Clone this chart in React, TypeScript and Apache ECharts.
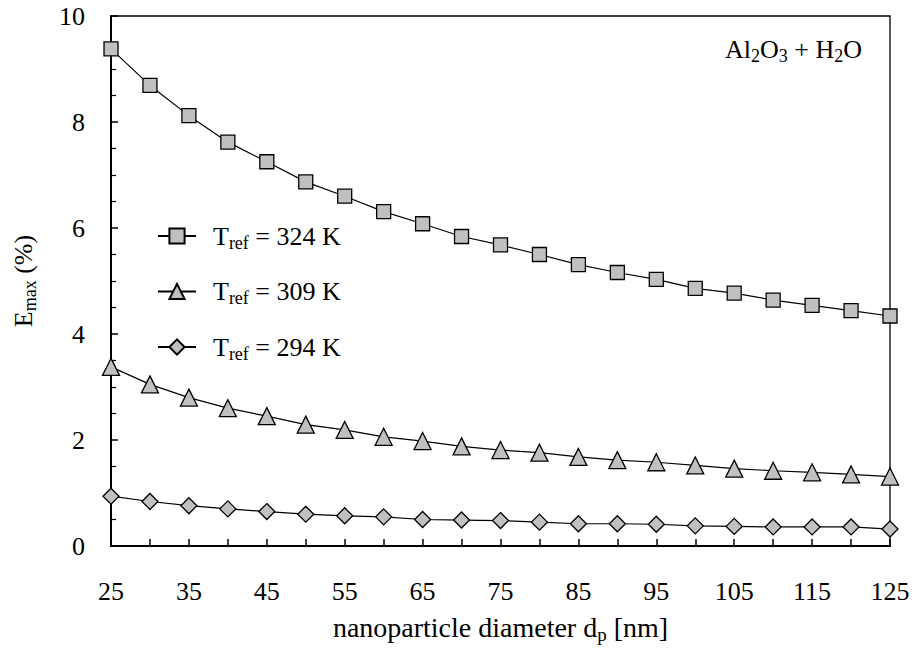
import React, { useEffect, useRef } from "react";
import * as echarts from "echarts";

const diameters = [25, 30, 35, 40, 45, 50, 55, 60, 65, 70, 75, 80, 85, 90, 95, 100, 105, 110, 115, 120, 125];
const e324 = [9.38, 8.69, 8.12, 7.62, 7.25, 6.87, 6.6, 6.31, 6.08, 5.84, 5.68, 5.5, 5.31, 5.16, 5.03, 4.86, 4.77, 4.64, 4.54, 4.44, 4.34];
const e309 = [3.38, 3.05, 2.8, 2.6, 2.45, 2.29, 2.19, 2.06, 1.98, 1.88, 1.81, 1.76, 1.68, 1.62, 1.58, 1.52, 1.46, 1.42, 1.39, 1.35, 1.31];
const e294 = [0.94, 0.84, 0.76, 0.7, 0.65, 0.6, 0.57, 0.55, 0.5, 0.49, 0.48, 0.45, 0.42, 0.42, 0.41, 0.38, 0.37, 0.36, 0.36, 0.36, 0.32];
const seriesNames = ["T_ref = 324 K", "T_ref = 309 K", "T_ref = 294 K"];
const legendTemps = ["324 K", "309 K", "294 K"];

const FONT = "'Liberation Serif', serif";
const FILL = "#c0c0c0";

export default function App() {
  const ref = useRef<HTMLDivElement>(null);
  useEffect(() => {
    if (!ref.current) return;
    const chart = echarts.init(ref.current, undefined, { renderer: "svg" });
    const mk = (vals: number[]) => diameters.map((d, i) => [d, vals[i]]);
    const sub = { fontSize: 18, fontFamily: FONT, color: "#000", padding: [13, 0, 0, 0] };
    const main = { fontSize: 26, fontFamily: FONT, color: "#000" };
    const mainX = { fontSize: 28, fontFamily: FONT, color: "#000" };
    const subX = { fontSize: 19, fontFamily: FONT, color: "#000", padding: [14, 0, 0, 0] };
    const symbols = ["rect", "triangle", "diamond"];
    const sizes = [14, 17, 16];
    const datas = [e324, e309, e294];
    chart.setOption({
      animation: false,
      backgroundColor: "#fff",
      grid: {
        left: 111,
        top: 16,
        right: 24,
        bottom: 98,
        show: true,
        borderColor: "#000",
        borderWidth: 1.3,
        backgroundColor: "transparent",
      },
      legend: {
        orient: "vertical",
        left: 152,
        top: 218,
        itemWidth: 38,
        itemHeight: 19,
        itemGap: 27,
        data: seriesNames,
        formatter: (name: string) => {
          const i = seriesNames.indexOf(name);
          return "{a|T}{b|ref}{c| = " + legendTemps[i] + "}";
        },
        textStyle: {
          rich: {
            a: { ...main, padding: [0, 0, 0, 12] },
            b: sub,
            c: main,
          },
        },
      },
      xAxis: {
        type: "value",
        min: 25,
        max: 125,
        interval: 5,
        name: "{a|nanoparticle diameter d}{b|p}{a| [nm]}",
        nameLocation: "middle",
        nameGap: 65,
        nameTextStyle: { rich: { a: mainX, b: subX } },
        axisLine: { lineStyle: { color: "#000", width: 2 } },
        axisTick: { inside: true, length: 7, lineStyle: { color: "#000", width: 1.5 } },
        axisLabel: {
          margin: 32,
          fontSize: 26,
          fontFamily: FONT,
          color: "#000",
          formatter: (v: number) => ((v - 25) % 10 === 0 ? String(v) : ""),
        },
        splitLine: { show: false },
      },
      yAxis: {
        type: "value",
        min: 0,
        max: 10,
        interval: 2,
        name: "{a|E}{b|max}{a| (%)}",
        nameLocation: "middle",
        nameGap: 72,
        nameRotate: 90,
        nameTextStyle: { rich: { a: main, b: sub } },
        axisLine: { show: true, lineStyle: { color: "#000", width: 2 } },
        axisTick: { inside: true, length: 7, lineStyle: { color: "#000", width: 1.5 } },
        minorTick: { show: true, splitNumber: 4, length: 5, lineStyle: { color: "#000", width: 1.2 } },
        axisLabel: {
          margin: 26,
          fontSize: 26,
          fontFamily: FONT,
          color: "#000",
        },
        splitLine: { show: false },
      },
      graphic: [
        {
          type: "text",
          right: 52,
          top: 36,
          style: {
            text: "{a|Al}{b|2}{a|O}{b|3}{a| + H}{b|2}{a|O}",
            rich: { a: main, b: sub },
          },
        },
      ],
      series: datas.map((vals, i) => ({
        type: "line",
        name: seriesNames[i],
        data: mk(vals),
        symbol: symbols[i],
        symbolSize: sizes[i],
        showAllSymbol: true,
        lineStyle: { color: "#000", width: 1.2 },
        itemStyle: { color: FILL, borderColor: "#000", borderWidth: 1.3 },
        z: 3,
      })),
    });
    return () => chart.dispose();
  }, []);
  return (
    <div
      ref={ref}
      style={{ position: "fixed", left: 0, top: 0, width: 914, height: 649, background: "#fff" }}
    />
  );
}
